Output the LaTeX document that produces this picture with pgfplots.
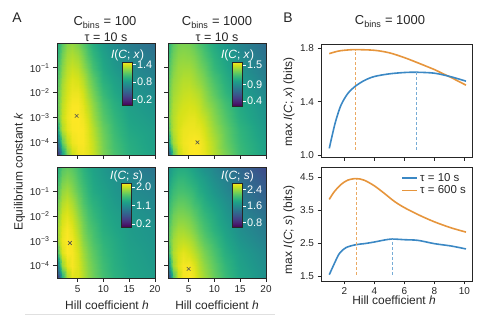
\documentclass[border=0pt]{standalone}
\usepackage{fontspec}
\setmainfont{Liberation Sans}
\usepackage{pgfplots}
\usepackage{pgfplotstable}
\pgfplotsset{compat=1.18}
\definecolor{cblue}{HTML}{3B88C4}
\definecolor{corange}{HTML}{E6953C}
\definecolor{txt}{HTML}{262626}

% h, log10 k, heat maps: a = I(C;x) C=100, b = I(C;x) C=1000, c = I(C;s) C=100, d = I(C;s) C=1000
\pgfplotstableread{
h lk a b c d
1 0 0.90 1.09 1.34 1.65
1.5 0 1.02 1.20 1.51 1.76
2 0 1.11 1.26 1.62 1.82
3 0 1.23 1.32 1.68 1.88
4 0 1.26 1.33 1.64 1.88
5 0 1.20 1.32 1.53 1.84
6 0 1.11 1.28 1.43 1.78
7 0 1.02 1.22 1.34 1.71
8 0 0.93 1.17 1.28 1.65
10 0 0.81 1.06 1.19 1.55
12 0 0.72 0.97 1.10 1.44
15 0 0.63 0.86 1.00 1.29
20 0 0.53 0.72 0.87 1.06
1 -0.5 0.96 1.14 1.47 1.76
1.5 -0.5 1.08 1.25 1.62 1.86
2 -0.5 1.17 1.30 1.73 1.92
3 -0.5 1.29 1.36 1.79 1.99
4 -0.5 1.32 1.37 1.73 1.99
5 -0.5 1.28 1.36 1.60 1.94
6 -0.5 1.19 1.33 1.49 1.88
7 -0.5 1.08 1.28 1.40 1.82
8 -0.5 0.99 1.22 1.32 1.76
10 -0.5 0.86 1.11 1.23 1.63
12 -0.5 0.77 1.02 1.15 1.52
15 -0.5 0.68 0.90 1.06 1.36
20 -0.5 0.59 0.76 0.95 1.15
1 -1 1.02 1.20 1.60 1.86
1.5 -1 1.14 1.29 1.75 1.97
2 -1 1.23 1.34 1.86 2.03
3 -1 1.34 1.40 1.92 2.09
4 -1 1.38 1.41 1.83 2.09
5 -1 1.35 1.41 1.68 2.05
6 -1 1.26 1.38 1.56 1.99
7 -1 1.16 1.33 1.45 1.90
8 -1 1.05 1.28 1.36 1.84
10 -1 0.90 1.15 1.28 1.71
12 -1 0.81 1.06 1.19 1.59
15 -1 0.72 0.94 1.10 1.44
20 -1 0.63 0.80 1.02 1.23
1 -1.5 1.08 1.24 1.71 1.97
1.5 -1.5 1.19 1.33 1.86 2.07
2 -1.5 1.28 1.38 1.96 2.13
3 -1.5 1.38 1.42 2.03 2.20
4 -1.5 1.43 1.45 1.94 2.20
5 -1.5 1.41 1.45 1.77 2.15
6 -1.5 1.34 1.42 1.62 2.07
7 -1.5 1.23 1.38 1.51 2.01
8 -1.5 1.13 1.33 1.43 1.92
10 -1.5 0.95 1.21 1.32 1.80
12 -1.5 0.86 1.10 1.23 1.67
15 -1.5 0.77 0.98 1.15 1.50
20 -1.5 0.68 0.84 1.06 1.31
1 -2 1.11 1.26 1.79 2.05
1.5 -2 1.23 1.36 1.94 2.15
2 -2 1.32 1.41 2.05 2.24
3 -2 1.41 1.45 2.11 2.30
4 -2 1.46 1.48 2.03 2.30
5 -2 1.46 1.49 1.86 2.26
6 -2 1.40 1.47 1.71 2.18
7 -2 1.29 1.44 1.58 2.09
8 -2 1.19 1.38 1.49 2.01
10 -2 1.01 1.26 1.36 1.88
12 -2 0.90 1.14 1.28 1.73
15 -2 0.80 1.02 1.19 1.57
20 -2 0.72 0.88 1.10 1.40
1 -2.5 1.13 1.28 1.86 2.11
1.5 -2.5 1.26 1.38 2.01 2.24
2 -2.5 1.35 1.44 2.11 2.32
3 -2.5 1.44 1.48 2.18 2.41
4 -2.5 1.49 1.51 2.11 2.41
5 -2.5 1.49 1.52 1.94 2.36
6 -2.5 1.44 1.51 1.77 2.28
7 -2.5 1.35 1.48 1.64 2.18
8 -2.5 1.25 1.42 1.56 2.09
10 -2.5 1.07 1.32 1.40 1.94
12 -2.5 0.95 1.20 1.32 1.80
15 -2.5 0.84 1.06 1.23 1.63
20 -2.5 0.77 0.93 1.15 1.46
1 -3 1.08 1.28 1.83 2.15
1.5 -3 1.26 1.40 2.03 2.30
2 -3 1.37 1.45 2.14 2.41
3 -3 1.46 1.51 2.20 2.49
4 -3 1.50 1.53 2.16 2.51
5 -3 1.50 1.55 2.01 2.47
6 -3 1.47 1.55 1.83 2.39
7 -3 1.40 1.52 1.71 2.28
8 -3 1.29 1.48 1.60 2.18
10 -3 1.11 1.36 1.45 2.03
12 -3 0.99 1.24 1.36 1.86
15 -3 0.87 1.09 1.25 1.69
20 -3 0.80 0.95 1.17 1.52
1 -3.5 0.83 1.20 1.51 1.99
1.5 -3.5 1.17 1.38 1.90 2.28
2 -3.5 1.32 1.45 2.09 2.45
3 -3.5 1.44 1.52 2.20 2.57
4 -3.5 1.49 1.56 2.18 2.62
5 -3.5 1.50 1.57 2.07 2.57
6 -3.5 1.49 1.57 1.90 2.49
7 -3.5 1.43 1.56 1.77 2.39
8 -3.5 1.34 1.52 1.66 2.28
10 -3.5 1.16 1.40 1.49 2.11
12 -3.5 1.02 1.28 1.38 1.92
15 -3.5 0.90 1.13 1.28 1.76
20 -3.5 0.83 0.98 1.19 1.59
1 -4 0.42 0.93 0.80 1.48
1.5 -4 0.83 1.28 1.45 2.07
2 -4 1.13 1.41 1.86 2.39
3 -4 1.35 1.52 2.11 2.60
4 -4 1.46 1.57 2.18 2.68
5 -4 1.49 1.59 2.09 2.68
6 -4 1.49 1.60 1.94 2.60
7 -4 1.44 1.59 1.81 2.47
8 -4 1.37 1.55 1.71 2.36
10 -4 1.19 1.44 1.53 2.18
12 -4 1.05 1.30 1.40 1.99
15 -4 0.93 1.15 1.30 1.80
20 -4 0.84 1.01 1.21 1.63
1 -4.5 0.12 0.52 0.27 0.92
1.5 -4.5 0.45 0.93 0.80 1.55
2 -4.5 0.83 1.26 1.38 2.11
3 -4.5 1.20 1.47 1.92 2.53
4 -4.5 1.38 1.55 2.11 2.68
5 -4.5 1.46 1.59 2.09 2.70
6 -4.5 1.47 1.60 1.96 2.64
7 -4.5 1.44 1.59 1.83 2.51
8 -4.5 1.38 1.56 1.73 2.41
10 -4.5 1.20 1.45 1.56 2.22
12 -4.5 1.07 1.33 1.43 2.03
15 -4.5 0.95 1.17 1.32 1.84
20 -4.5 0.86 1.02 1.23 1.65
}\hm

\pgfplotsset{
  /pgf/number format/assume math mode=true,
  every tick label/.append style={font=\fontsize{10}{12}\selectfont, text=txt},
  hm/.style={scale only axis, width=98bp, xmin=1, xmax=20, ymin=-4.5, ymax=0,
    axis on top, xtick={5,10,15,20}, ytick={-4,-3,-2,-1},
    yticklabels={10\textsuperscript{−4},10\textsuperscript{−3},10\textsuperscript{−2},10\textsuperscript{−1}},
    tick pos=left, tick align=outside, major tick length=4bp,
    tick style={txt, line width=0.8pt}, axis line style={txt, line width=0.8pt},
    colormap/viridis},
  cbs/.style n args={5}{colorbar, colorbar style={
    at={(parent axis.north west)}, anchor=north west, xshift=#1, yshift=#2,
    scale only axis, width=10bp, height=#5,
    ytick={#3}, ytick pos=right, yticklabel pos=right, tick align=outside,
    major tick length=3bp, tick style={white, line width=0.8pt},
    yticklabel style={text=white, font=\fontsize{11}{12}\selectfont, xshift=-2bp,
      /pgf/number format/fixed, /pgf/number format/fixed zerofill, /pgf/number format/precision=1},
    axis line style={txt, line width=0.8pt},
    every axis title shift=0pt,
    title={#4}, title style={text=white, font=\fontsize{12}{13}\selectfont,
      at={(0.5,1)}, anchor=south, inner sep=1bp}}},
  bax/.style={scale only axis, width=151bp, xmin=0.45, xmax=10.5, xtick={2,4,6,8,10},
    tick pos=left, tick align=outside, major tick length=3.5bp,
    tick style={txt, line width=0.8pt}, axis line style={txt, line width=0.9pt},
    yticklabel style={/pgf/number format/fixed, /pgf/number format/fixed zerofill, /pgf/number format/precision=1}},
}

\begin{document}
\begin{tikzpicture}
\useasboundingbox (0,0) rectangle (486bp,316bp);

% ---------- Panel A ----------
\begin{axis}[hm, at={(57bp,161bp)}, height=112bp, xticklabels={},
  point meta min=0, point meta max=1.5,
  cbs={57bp}{-19bp}{0.2,0.8,1.4}{\textit{I}(\textit{C}; \textit{x})}{43bp}]
\addplot[surf, shader=interp, mesh/cols=13, point meta=explicit] table[x=h, y=lk, meta=a] {\hm};
\addplot[only marks, mark=x, mark size=2.6bp, txt!80, line width=0.6pt] coordinates {(4.8,-2.93)};
\end{axis}

\begin{axis}[hm, at={(168bp,161bp)}, height=112bp, xticklabels={}, yticklabels={},
  point meta min=0.25, point meta max=1.6,
  cbs={56bp}{-19bp}{0.4,0.9,1.5}{\textit{I}(\textit{C}; \textit{x})}{44bp}]
\addplot[surf, shader=interp, mesh/cols=13, point meta=explicit] table[x=h, y=lk, meta=b] {\hm};
\addplot[only marks, mark=x, mark size=2.6bp, txt!80, line width=0.6pt] coordinates {(6.7,-3.99)};
\end{axis}

\begin{axis}[hm, at={(57bp,38bp)}, height=111bp,
  point meta min=0.05, point meta max=2.2,
  cbs={56bp}{-16bp}{0.2,1.1,2.0}{\textit{I}(\textit{C}; \textit{s})}{44bp}]
\addplot[surf, shader=interp, mesh/cols=13, point meta=explicit] table[x=h, y=lk, meta=c] {\hm};
\addplot[only marks, mark=x, mark size=2.6bp, txt!80, line width=0.6pt] coordinates {(3.5,-3.08)};
\end{axis}

\begin{axis}[hm, at={(168bp,38bp)}, height=111bp, yticklabels={},
  point meta min=0.6, point meta max=2.7,
  cbs={56bp}{-16bp}{0.8,1.6,2.4}{\textit{I}(\textit{C}; \textit{s})}{44bp}]
\addplot[surf, shader=interp, mesh/cols=13, point meta=explicit] table[x=h, y=lk, meta=d] {\hm};
\addplot[only marks, mark=x, mark size=2.6bp, txt!80, line width=0.6pt] coordinates {(5.0,-4.13)};
\end{axis}

% ---------- Panel B ----------
\begin{axis}[bax, at={(321bp,158.7bp)}, height=113bp, ymin=0.983, ymax=1.832,
  ytick={1.0,1.4,1.8}, xticklabels={}]
\addplot[corange, line width=1.6pt, smooth] coordinates {
  (1,1.762) (1.56,1.780) (2.0,1.787) (2.71,1.792) (4,1.787) (5,1.768) (6,1.732)
  (7,1.688) (8,1.642) (8.44,1.618) (9.1,1.583) (10.1,1.525)};
\addplot[cblue, line width=1.6pt, smooth] coordinates {
  (1,1.05) (1.22,1.16) (1.44,1.26) (1.78,1.375) (2.22,1.46) (2.71,1.515) (3.33,1.56)
  (4,1.59) (5,1.61) (6,1.62) (6.8,1.622) (8,1.615) (9.1,1.588) (10.1,1.555)};
\addplot[corange!80, line width=0.8pt, dash pattern=on 3pt off 2pt] coordinates {(2.71,1.04) (2.71,1.792)};
\addplot[cblue!70, line width=0.8pt, dash pattern=on 3pt off 2pt] coordinates {(6.82,1.04) (6.82,1.622)};
\end{axis}

\begin{axis}[bax, at={(321bp,35bp)}, height=114bp, ymin=1.35, ymax=4.80,
  ytick={1.5,2.5,3.5,4.5},
  legend style={at={(1,1)}, anchor=north east, draw=none, fill=none,
    font=\fontsize{11.5}{13}\selectfont, text=txt, xshift=-1bp, yshift=-2bp, row sep=-1pt},
  legend cell align=left,
  legend image code/.code={\draw[#1] (0bp,0bp) -- (15bp,0bp);}]
\addplot[cblue, line width=1.6pt, smooth] coordinates {
  (1,1.54) (1.33,1.87) (1.67,2.18) (2.11,2.36) (2.78,2.45) (3.33,2.48) (4,2.53)
  (4.67,2.59) (5.18,2.62) (6,2.60) (6.9,2.58) (8,2.48) (9.1,2.41) (10.1,2.32)};
\addlegendentry{τ = 10 s}
\addplot[corange, line width=1.6pt, smooth] coordinates {
  (1,3.82) (1.33,4.05) (1.78,4.27) (2.22,4.40) (2.78,4.45) (3.33,4.40) (4,4.23)
  (4.67,4.00) (5.33,3.76) (6,3.57) (7,3.34) (8,3.14) (9.1,2.96) (10.1,2.83)};
\addlegendentry{τ = 600 s}
\addplot[corange!80, line width=0.8pt, dash pattern=on 3pt off 2pt, forget plot] coordinates {(2.78,1.54) (2.78,4.45)};
\addplot[cblue!70, line width=0.8pt, dash pattern=on 3pt off 2pt, forget plot] coordinates {(5.18,1.54) (5.18,2.62)};
\end{axis}

% ---------- Texts ----------
\node[anchor=base, text=txt, font=\fontsize{14}{16}\selectfont] at (17bp,293.3bp) {A};
\node[anchor=base, text=txt, font=\fontsize{14}{16}\selectfont] at (288bp,293.3bp) {B};
\node[anchor=base, text=txt, font=\fontsize{13}{15}\selectfont] at (105bp,290bp) {C\textsubscript{bins} = 100};
\node[anchor=base, text=txt, font=\fontsize{12.5}{15}\selectfont] at (106bp,274.3bp) {τ = 10 s};
\node[anchor=base, text=txt, font=\fontsize{13}{15}\selectfont] at (217bp,290bp) {C\textsubscript{bins} = 1000};
\node[anchor=base, text=txt, font=\fontsize{12.5}{15}\selectfont] at (217bp,274.3bp) {τ = 10 s};
\node[anchor=base, text=txt, font=\fontsize{13}{15}\selectfont] at (390bp,291bp) {C\textsubscript{bins} = 1000};
\node[anchor=base, text=txt, font=\fontsize{12}{14}\selectfont] at (107bp,6.7bp) {Hill coefficient \textit{h}};
\node[anchor=base, text=txt, font=\fontsize{12}{14}\selectfont] at (217bp,6.7bp) {Hill coefficient \textit{h}};
\node[anchor=base, text=txt, font=\fontsize{12}{14}\selectfont] at (394bp,12bp) {Hill coefficient \textit{h}};
\node[anchor=base, rotate=90, text=txt, font=\fontsize{12}{14}\selectfont] at (22.5bp,144bp) {Equilibrium constant \textit{k}};
\node[anchor=base, rotate=90, text=txt, font=\fontsize{12}{14}\selectfont] at (292bp,214bp) {max \textit{I}(\textit{C}; \textit{x}) (bits)};
\node[anchor=base, rotate=90, text=txt, font=\fontsize{12}{14}\selectfont] at (292bp,86bp) {max \textit{I}(\textit{C}; \textit{s}) (bits)};
\draw[black!12, line width=0.6pt] (25bp,2bp) -- (275bp,2bp);
\end{tikzpicture}
\end{document}
